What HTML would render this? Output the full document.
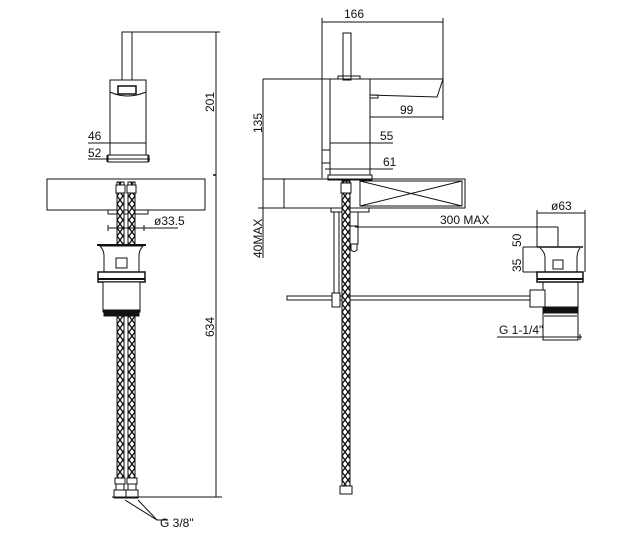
<!DOCTYPE html>
<html><head><meta charset="utf-8"><style>
html,body{margin:0;padding:0;background:#fff;}
svg{display:block;}
text{font-family:"Liberation Sans",sans-serif;font-size:12px;fill:#111;}
</style></head><body>
<svg width="632" height="535" viewBox="0 0 632 535" xmlns="http://www.w3.org/2000/svg">
<defs>
<pattern id="br" width="6" height="8" patternUnits="userSpaceOnUse">
<rect width="6" height="8" fill="#fff"/>
<path d="M0,0 L6,8 M6,0 L0,8" stroke="#111" stroke-width="1.3"/>
</pattern>
</defs>
<g fill="none" stroke="#111" stroke-width="1">
<rect x="122" y="32" width="10" height="48"/>
<rect x="110" y="80" width="36" height="75"/>
<rect x="118" y="86" width="18" height="8" stroke-width="1.5"/>
<path d="M110,92 Q127,100 146,92"/>
<rect x="108" y="155" width="40" height="7"/>
<rect x="47" y="179" width="158" height="31"/>
<rect x="108" y="210" width="40" height="4"/>
<rect x="117" y="182" width="7" height="308" fill="url(#br)"/>
<rect x="128" y="182" width="7" height="308" fill="url(#br)"/>
<rect x="116" y="185" width="9" height="8" fill="#fff"/>
<rect x="127" y="185" width="9" height="8" fill="#fff"/>
<path d="M100,246 Q104,250 104,256 L104,272 L139,272 L139,256 Q139,250 143,246 Z" fill="#fff"/>
<path d="M97,245 L146,245" stroke-width="2"/>
<rect x="116" y="258" width="11" height="10"/>
<rect x="98" y="272" width="47" height="10" stroke-width="1.5" fill="#fff"/>
<path d="M98,279 L145,279" stroke-width="2"/>
<rect x="103" y="282" width="37" height="30" fill="#fff"/>
<rect x="104" y="310" width="35" height="6" fill="#111"/>
<rect x="115" y="478" width="10" height="6" fill="#fff"/><rect x="127" y="478" width="10" height="6" fill="#fff"/>
<rect x="116" y="484" width="8" height="6" fill="#fff"/><rect x="128" y="484" width="8" height="6" fill="#fff"/>
<rect x="114" y="490" width="12" height="8" fill="#fff"/><rect x="126" y="490" width="12" height="8" fill="#fff"/>
<line x1="132" y1="32" x2="220" y2="32"/>
<line x1="216" y1="32" x2="216" y2="497"/>
<line x1="213" y1="175" x2="216" y2="175" stroke-width="1.5"/>
<line x1="112" y1="497" x2="222" y2="497"/>
<line x1="88" y1="143" x2="146" y2="143"/>
<line x1="88" y1="159" x2="150" y2="159"/>
<line x1="107" y1="155" x2="107" y2="162"/><line x1="149" y1="155" x2="149" y2="162"/>
<line x1="108" y1="228" x2="178" y2="228"/>
<line x1="108" y1="225" x2="108" y2="231"/><line x1="144" y1="225" x2="144" y2="231"/>
<polyline points="125,500 157,520 168,520"/>
<line x1="138" y1="500" x2="157" y2="520"/>
<rect x="343" y="33" width="8" height="47"/>
<rect x="330" y="79" width="40" height="96"/>
<path d="M338,79 L338,76 L360,76 L360,79"/>
<polygon points="370,79 443,79 437,97 370,95"/>
<rect x="370" y="95" width="8" height="3"/>
<rect x="322" y="150" width="8" height="13"/>
<rect x="328" y="175" width="44" height="5"/>
<rect x="263" y="179" width="202" height="29"/>
<line x1="284" y1="179" x2="284" y2="208"/>
<rect x="360" y="181" width="102" height="25"/>
<path d="M360,181 L462,206 M462,181 L360,206"/>
<rect x="331" y="208" width="38" height="4"/>
<line x1="334" y1="212" x2="334" y2="300"/><line x1="339" y1="212" x2="339" y2="300"/>
<rect x="287" y="296" width="243" height="4" fill="#fff"/>
<rect x="332" y="293" width="8" height="14" fill="#fff"/>
<rect x="350" y="212" width="8" height="14"/>
<rect x="350" y="226" width="8" height="18"/>
<path d="M351,244 L351,250 Q354,253 357,250 L357,244"/>
<rect x="342" y="181" width="8" height="311" fill="url(#br)"/>
<rect x="341" y="183" width="10" height="10" fill="#fff"/>
<rect x="340" y="486" width="12" height="8" fill="#fff"/>
<path d="M537,247 L583,247" stroke-width="1.5"/>
<path d="M540,248 Q545,252 545,258 L545,272 M580,248 Q577,252 577,258 L577,272"/>
<rect x="553" y="260" width="10" height="9"/>
<rect x="537" y="272" width="46" height="10" stroke-width="1.5"/>
<path d="M537,279 L583,279" stroke-width="2"/>
<rect x="543" y="282" width="35" height="58"/>
<rect x="530" y="290" width="15" height="17" fill="#fff"/>
<rect x="544" y="307" width="33" height="6" fill="#111"/>
<line x1="544" y1="316" x2="577" y2="316"/>
<line x1="322" y1="22" x2="443" y2="22"/>
<line x1="322" y1="18" x2="322" y2="178"/>
<line x1="443" y1="18" x2="443" y2="120"/>
<line x1="263" y1="79" x2="330" y2="79"/>
<line x1="263" y1="79" x2="263" y2="258"/>
<line x1="258" y1="208" x2="284" y2="208"/>
<line x1="370" y1="117" x2="443" y2="117"/>
<line x1="330" y1="143" x2="393" y2="143"/>
<line x1="325" y1="169" x2="393" y2="169"/>
<line x1="355" y1="227" x2="558" y2="227"/>
<line x1="558" y1="227" x2="558" y2="247"/>
<line x1="537" y1="213" x2="585" y2="213"/>
<line x1="537" y1="210" x2="537" y2="247"/>
<line x1="585" y1="210" x2="585" y2="272"/>
<line x1="523" y1="247" x2="537" y2="247"/>
<line x1="523" y1="272" x2="537" y2="272"/>
<line x1="523" y1="247" x2="523" y2="272"/>
<line x1="497" y1="337" x2="582" y2="337"/>
<line x1="580" y1="334" x2="580" y2="340"/>
</g>
<text x="88" y="140">46</text>
<text x="88" y="157">52</text>
<text x="154" y="225">ø33.5</text>
<text x="160" y="527">G 3/8"</text>
<text transform="translate(214,112) rotate(-90)">201</text>
<text transform="translate(214,337) rotate(-90)">634</text>
<text x="344" y="18">166</text>
<text x="400" y="114">99</text>
<text x="380" y="140">55</text>
<text x="383" y="166">61</text>
<text transform="translate(262,133) rotate(-90)">135</text>
<text transform="translate(262,258) rotate(-90)">40MAX</text>
<text x="440" y="224">300 MAX</text>
<text x="551" y="210">ø63</text>
<text transform="translate(521,247) rotate(-90)">50</text>
<text transform="translate(521,272) rotate(-90)">35</text>
<text x="499" y="334">G 1-1/4"</text>
</svg>
</body></html>
